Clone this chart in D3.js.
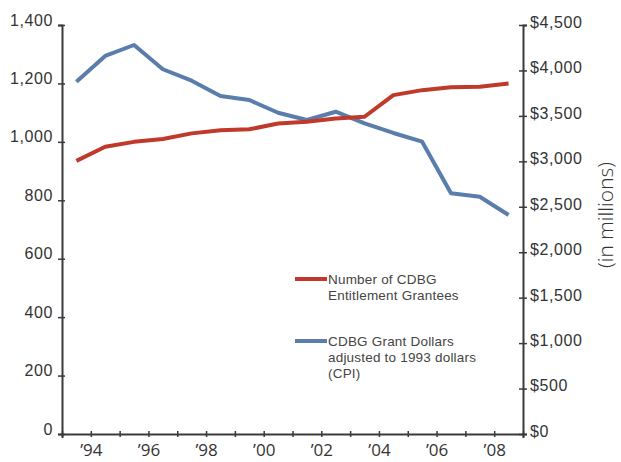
<!DOCTYPE html>
<html>
<head>
<meta charset="utf-8">
<script src="https://cdn.jsdelivr.net/npm/d3@7"></script>
<style>
  html, body { margin: 0; padding: 0; background: #fff; }
  #chart { width: 621px; height: 462px; }
</style>
</head>
<body>
<div id="chart"></div>
<script>
// CDBG grantees vs grant dollars, 1993-2008
const YEARS = [1993, 1994, 1995, 1996, 1997, 1998, 1999, 2000,
               2001, 2002, 2003, 2004, 2005, 2006, 2007, 2008];
const GRANTEES = [935, 983, 1000, 1010, 1029, 1040, 1043, 1063,
                  1069, 1080, 1086, 1160, 1177, 1187, 1189, 1200];
const DOLLARS = [3876, 4159, 4280, 4013, 3887, 3719, 3675, 3535,
                 3455, 3546, 3418, 3312, 3216, 2648, 2611, 2410];
const X_LABEL_YEARS = [1994, 1996, 1998, 2000, 2002, 2004, 2006, 2008];
const LEFT_TICKS = [0, 200, 400, 600, 800, 1000, 1200, 1400];
const RIGHT_TICKS = [0, 500, 1000, 1500, 2000, 2500, 3000, 3500, 4000, 4500];
const LEGEND = [
    { lines: ["Number of CDBG", "Entitlement Grantees"], color: "#c0392b" },
    { lines: ["CDBG Grant Dollars", "adjusted to 1993 dollars", "(CPI)"], color: "#5a7dab" }
];

const W = 621, H = 462;
const margin = { top: 25, right: 98, bottom: 28, left: 62 };
const width = W - margin.left - margin.right;
const height = H - margin.top - margin.bottom;

const svg = d3.select("#chart").append("svg")
    .attr("width", W)
    .attr("height", H)
    .append("g")
    .attr("transform", `translate(${margin.left},${margin.top})`);

// categories sit between ticks, like the excel original
const x = d3.scaleBand()
    .domain(YEARS)
    .range([0, width])
    .padding(0);
const bw = x.bandwidth();
const cx = d => x(d) + bw / 2;

const yL = d3.scaleLinear().domain([0, 1400]).range([height, 0]);
const yR = d3.scaleLinear().domain([0, 4500]).range([height, 0]);

const axisColor = "#3a3a3a";
const labelFont = "'Liberation Sans', Arial, sans-serif";

// left axis
const gL = svg.append("g")
    .call(d3.axisLeft(yL).tickValues(LEFT_TICKS).tickSize(4).tickPadding(5)
        .tickFormat(d3.format(",")));
gL.select(".domain").attr("stroke", axisColor).attr("stroke-width", 2);
gL.selectAll(".tick line").attr("x1", 3).attr("x2", -4).attr("stroke", axisColor).attr("stroke-width", 1.5);
gL.selectAll(".tick text")
    .attr("dy", "-0.0em")
    .style("font-family", labelFont)
    .style("font-size", "16px")
    .style("letter-spacing", "0.6px")
    .style("fill", "#333");

// right axis
const gR = svg.append("g")
    .attr("transform", `translate(${width},0)`)
    .call(d3.axisRight(yR).tickValues(RIGHT_TICKS).tickSize(4).tickPadding(3)
        .tickFormat(d => "$" + d3.format(",")(d)));
gR.select(".domain").attr("stroke", axisColor).attr("stroke-width", 2);
gR.selectAll(".tick line").attr("x1", -4).attr("x2", 4).attr("stroke", axisColor).attr("stroke-width", 1.5);
gR.selectAll(".tick text")
    .attr("dy", "0.15em")
    .style("font-family", labelFont)
    .style("font-size", "16px")
    .style("letter-spacing", "0.6px")
    .style("fill", "#333");

// bottom axis: ticks at band edges, labels every other edge
const edges = YEARS.concat([YEARS[YEARS.length - 1] + 1]);
const xEdge = d3.scaleLinear().domain([YEARS[0], edges[edges.length - 1]]).range([0, width]);
const gB = svg.append("g")
    .attr("transform", `translate(0,${height})`)
    .call(d3.axisBottom(xEdge).tickValues(edges).tickSize(4).tickPadding(6)
        .tickFormat(d => X_LABEL_YEARS.includes(d) ? "\u2019" + String(d).slice(2) : ""));
gB.select(".domain").attr("stroke", axisColor).attr("stroke-width", 2);
gB.selectAll(".tick line").attr("y1", -3).attr("y2", 3).attr("stroke", axisColor).attr("stroke-width", 1.5);
gB.selectAll(".tick text")
    .style("font-family", "'Open Sans', sans-serif")
    .style("font-size", "17px")
    .style("fill", "#333");

// lines
const lineL = d3.line().x((d, i) => cx(YEARS[i])).y(d => yL(d));
const lineR = d3.line().x((d, i) => cx(YEARS[i])).y(d => yR(d));

svg.append("path")
    .datum(DOLLARS)
    .attr("fill", "none")
    .attr("stroke", LEGEND[1].color)
    .attr("stroke-width", 4)
    .attr("stroke-linejoin", "round")
    .attr("d", lineR);

svg.append("path")
    .datum(GRANTEES)
    .attr("fill", "none")
    .attr("stroke", LEGEND[0].color)
    .attr("stroke-width", 4)
    .attr("stroke-linejoin", "round")
    .attr("d", lineL);

// legend
const legend = svg.append("g").attr("transform", `translate(${295 - margin.left},${279 - margin.top})`);
LEGEND.forEach((item, i) => {
    const g = legend.append("g").attr("transform", `translate(0,${i * 62})`);
    g.append("line")
        .attr("x1", 0).attr("x2", 32)
        .attr("y1", 0).attr("y2", 0)
        .attr("stroke", item.color)
        .attr("stroke-width", 4);
    item.lines.forEach((t, j) => {
        g.append("text")
            .attr("x", 33)
            .attr("y", j * 16 + 4.5)
            .style("font-family", labelFont)
            .style("font-size", "13.5px")
            .style("letter-spacing", "0.2px")
            .style("fill", "#444")
            .text(t);
    });
});

// right axis title
svg.append("text")
    .attr("transform", `translate(${W - margin.left - 8},${215 - margin.top}) rotate(-90)`)
    .attr("text-anchor", "middle")
    .style("font-family", "'Open Sans', sans-serif")
    .style("font-weight", "300")
    .style("font-size", "21px")
    .style("fill", "#333")
    .text("(in millions)");
</script>
</body>
</html>
